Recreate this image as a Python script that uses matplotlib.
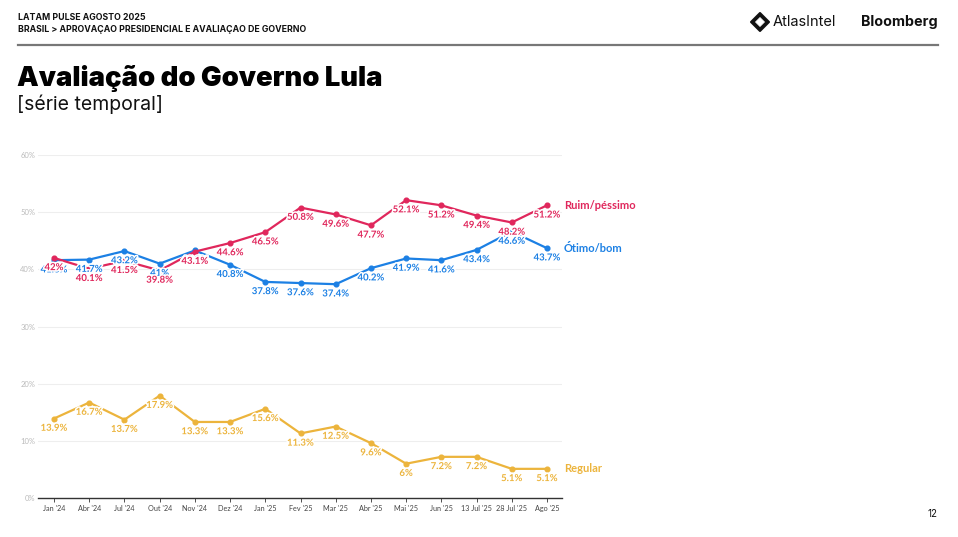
import numpy as np
import matplotlib
matplotlib.use("Agg")
import matplotlib.pyplot as plt
import matplotlib.patheffects as pe
from matplotlib.patches import Polygon
from matplotlib.lines import Line2D

months = ["Jan '24", "Abr '24", "Jul '24", "Out '24", "Nov '24", "Dez '24", "Jan '25",
          "Fev '25", "Mar '25", "Abr '25", "Mai '25", "Jun '25", "13 Jul '25",
          "28 Jul '25", "Ago '25"]
ruim = [42, 40.1, 41.5, 39.8, 43.1, 44.6, 46.5, 50.8, 49.6, 47.7, 52.1, 51.2, 49.4, 48.2, 51.2]
otimo = [41.6, 41.7, 43.2, 41, 43.3, 40.8, 37.8, 37.6, 37.4, 40.2, 41.9, 41.6, 43.4, 46.6, 43.7]
regular = [13.9, 16.7, 13.7, 17.9, 13.3, 13.3, 15.6, 11.3, 12.5, 9.6, 6, 7.2, 7.2, 5.1, 5.1]

RED = "#e0275c"
BLUE = "#1c80e4"
GOLD = "#ecb43c"

W, H = 958, 537
fig = plt.figure(figsize=(W / 100, H / 100), dpi=100)


def fx(px):
    return px / W


def fy(py):
    return 1 - py / H


# header
fig.text(fx(18), fy(18), "LATAM PULSE AGOSTO 2025", fontsize=6.3, fontweight="bold",
         family="Inter", va="center", color="#111")
fig.text(fx(18), fy(29), "BRASIL > APROVAÇAO PRESIDENCIAL E AVALIAÇAO DE GOVERNO", fontsize=6.3,
         fontweight="bold", family="Inter", va="center", color="#111")
fig.add_artist(Line2D([fx(18), fx(938)], [fy(45), fy(45)], color="#777", lw=1.6))

# AtlasIntel logo
cx, cy = 760, 22
outer = [(cx - 9, cy), (cx, cy - 9), (cx + 9, cy), (cx, cy + 9)]
inner = [(cx - 4.5, cy), (cx, cy - 4.5), (cx + 4.5, cy), (cx, cy + 4.5)]
fig.add_artist(Polygon([(fx(a), fy(b)) for a, b in outer], closed=True, fc="#111", ec="#111",
                       lw=1.5, joinstyle="round", transform=fig.transFigure))
fig.add_artist(Polygon([(fx(a), fy(b)) for a, b in inner], closed=True, fc="white", ec="white",
                       lw=0.5, transform=fig.transFigure))
fig.text(fx(773), fy(22), "AtlasIntel", fontsize=10.5, family="Inter", va="center", color="#111")
fig.text(fx(938), fy(22), "Bloomberg", fontsize=10.3, fontweight="bold", family="Inter",
         va="center", ha="right", color="#111")

# title
fig.text(fx(17), fy(78), "Avaliação do Governo Lula", fontsize=19.7, fontweight="black",
         family="Inter", va="center", color="#000")
fig.text(fx(17), fy(104), "[série temporal]", fontsize=14, family="Inter", va="center",
         color="#111")
fig.text(fx(938), fy(514), "12", fontsize=7, family="Inter", va="center", ha="right",
         color="#111")

# chart
left, right = 38, 562
top, bottom = 155, 498
ax = fig.add_axes([fx(left), fy(bottom), (right - left) / W, (bottom - top) / H])
x = np.arange(len(months))
step = (547 - 54) / 14
ax.set_xlim(-(54 - left) / step, 14 + (right - 547) / step)
ax.set_ylim(0, 60)

for s in ["top", "right", "left"]:
    ax.spines[s].set_visible(False)
ax.spines["bottom"].set_color("#333")
ax.spines["bottom"].set_linewidth(1)
ax.set_yticks([0, 10, 20, 30, 40, 50, 60])
ax.set_yticklabels([f"{v}%" for v in [0, 10, 20, 30, 40, 50, 60]])
ax.tick_params(axis="y", length=0, labelsize=5.5, labelcolor="#bbb", pad=2)
ax.grid(axis="y", color="#eeeeee", lw=0.8)
ax.set_axisbelow(True)
ax.set_xticks(x)
ax.set_xticklabels(months)
ax.tick_params(axis="x", length=3, width=0.6, color="#333", labelsize=5.2,
               labelcolor="#444", pad=2)
for lab in ax.get_xticklabels() + ax.get_yticklabels():
    lab.set_family("Lato")

halo = [pe.withStroke(linewidth=2.2, foreground="white")]


def fmt(v):
    return f"{v:g}%"


for vals, col, name, z in [(regular, GOLD, "Regular", 3), (otimo, BLUE, "Ótimo/bom", 4),
                           (ruim, RED, "Ruim/péssimo", 5)]:
    ax.plot(x, vals, color=col, lw=1.6, marker="o", ms=3.4, zorder=z, clip_on=False)
    for xi, v in zip(x, vals):
        ax.annotate(fmt(v), (xi, v), xytext=(0, -7), textcoords="offset points",
                    ha="center", va="center", fontsize=6.9, fontweight="bold",
                    family="Lato", color=col, path_effects=halo, zorder=z + 10)
    ax.annotate(name, (x[-1], vals[-1]), xytext=(right - 547 + 2, 0), textcoords="offset pixels",
                ha="left", va="center", fontsize=8, fontweight="bold", family="Lato",
                color=col, annotation_clip=False)

fig.savefig("out.png", dpi=100)
